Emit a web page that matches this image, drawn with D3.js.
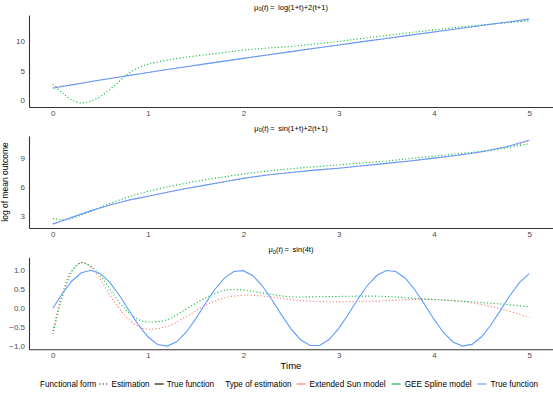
<!DOCTYPE html>
<html>
<head>
<meta charset="utf-8">
<script src="https://cdn.jsdelivr.net/npm/d3@7"></script>
<style>
  body { margin: 0; background: #fff; }
  svg { font-family: "Liberation Sans", Arial, Helvetica, sans-serif; }
</style>
</head>
<body>
<svg id="canvas"></svg>
<script>
//--time grids
const timeEst = [0, 0.1, 0.2, 0.3, 0.4, 0.5, 0.6, 0.7, 0.8, 0.9, 1.0, 1.2, 1.4, 1.6, 1.8, 2.0,
                 2.25, 2.5, 2.75, 3.0, 3.25, 3.5, 3.75, 4.0, 4.25, 4.5, 4.75, 5.0];
const timeFine = [0, 0.1, 0.2, 0.3, 0.4, 0.5, 0.6, 0.7, 0.8, 0.9, 1.0, 1.1, 1.2, 1.3, 1.4, 1.5, 1.6,
                  1.7, 1.8, 1.9, 2.0, 2.1, 2.2, 2.3, 2.4, 2.5, 2.6, 2.7, 2.8, 2.9, 3.0, 3.1, 3.2, 3.3,
                  3.4, 3.5, 3.6, 3.7, 3.8, 3.9, 4.0, 4.1, 4.2, 4.3, 4.4, 4.5, 4.6, 4.7, 4.8, 4.9, 5.0];
//--

//--panel 1: log(1+t)+2(t+1)
const p1Sun = [2.2, 2.4, 2.6, 2.85, 3.1, 3.4, 3.66, 3.92, 4.18, 4.43, 4.68, 5.18, 5.67, 6.15, 6.62, 7.09,
               7.67, 8.24, 8.81, 9.38, 9.94, 10.49, 11.05, 11.6, 12.15, 12.68, 13.2, 13.72];
const p1Gee = [2.7, 1.2, 0.0, -0.5, -0.2, 0.6, 1.8, 3.2, 4.6, 5.5, 6.1, 6.8, 7.3, 7.7, 8.1, 8.5,
               8.85, 9.15, 9.55, 10.0, 10.5, 11.0, 11.5, 11.95, 12.4, 12.8, 13.15, 13.5];
const p1True = [2.0, 2.3, 2.58, 2.86, 3.14, 3.41, 3.67, 3.93, 4.19, 4.44, 4.69, 5.19, 5.68, 6.16, 6.63, 7.1,
                7.68, 8.25, 8.82, 9.39, 9.95, 10.5, 11.06, 11.61, 12.16, 12.7, 13.25, 13.79];
//--

//--panel 2: sin(1+t)+2(t+1)
const p2Sun = [2.15, 2.45, 2.78, 3.12, 3.47, 3.78, 4.06, 4.33, 4.58, 4.79, 4.99, 5.39, 5.79, 6.14, 6.5, 6.84,
               7.19, 7.45, 7.7, 7.9, 8.15, 8.4, 8.65, 8.94, 9.24, 9.58, 10.05, 10.72];
const p2Gee = [2.7, 2.55, 2.7, 3.05, 3.45, 3.85, 4.25, 4.6, 4.95, 5.25, 5.5, 5.95, 6.35, 6.7, 7.0, 7.3,
               7.6, 7.85, 8.05, 8.25, 8.45, 8.65, 8.9, 9.15, 9.4, 9.65, 10.0, 10.45];
const p2True = [2.1, 2.45, 2.8, 3.15, 3.5, 3.8, 4.08, 4.35, 4.6, 4.8, 5.0, 5.4, 5.8, 6.15, 6.5, 6.85,
                7.2, 7.45, 7.7, 7.9, 8.15, 8.4, 8.65, 8.95, 9.25, 9.6, 10.1, 10.8];
//--

//--panel 3: sin(4t)
const p3Sun = [-0.6, 0.4, 1.0, 1.2, 1.08, 0.75, 0.35, -0.02, -0.3, -0.48, -0.55, -0.48, -0.22, 0.07, 0.27, 0.34,
               0.31, 0.23, 0.18, 0.17, 0.18, 0.2, 0.23, 0.23, 0.19, 0.1, -0.05, -0.24];
const p3Gee = [-0.68, 0.3, 0.95, 1.2, 1.1, 0.85, 0.5, 0.15, -0.12, -0.3, -0.36, -0.3, -0.02, 0.27, 0.47, 0.48,
               0.38, 0.3, 0.3, 0.31, 0.32, 0.31, 0.27, 0.23, 0.19, 0.15, 0.1, 0.04];
const p3True = [0, 0.389, 0.717, 0.932, 1.0, 0.909, 0.675, 0.335, -0.058, -0.443, -0.757, -0.952, -0.996,
                -0.883, -0.631, -0.279, 0.117, 0.494, 0.794, 0.968, 0.989, 0.855, 0.585, 0.223, -0.175,
                -0.544, -0.828, -0.981, -0.98, -0.823, -0.537, -0.166, 0.231, 0.592, 0.86, 0.991, 0.966,
                0.79, 0.487, 0.108, -0.288, -0.638, -0.886, -0.996, -0.951, -0.751, -0.434, -0.049,
                0.343, 0.681, 0.913];
//--

//--labels
const panelTitles = ["log(1+t)+2(t+1)", "sin(1+t)+2(t+1)", "sin(4t)"];
const panelTicks = [[0, 5, 10], [3, 6, 9], [-1, -0.5, 0, 0.5, 1]];
const panelDomains = [[-1.2, 14.5], [1.7, 11.24], [-1.08, 1.34]];
const xTicks = [0, 1, 2, 3, 4, 5];
const seriesNames = ["Extended Sun model", "GEE Spline model", "True function"];
const seriesColors = ["#F8766D", "#00BA38", "#619CFF"];
//--

//--canvas
let width = 553;
let height = 394;
let left = 29;
let right = 553;
let panelTops = [15, 136, 257.3];
let panelH = 92;

let canvas = d3.select("#canvas")
canvas.attr("width", width).attr("height", height)
//--

let x = d3.scaleLinear().domain([-0.25, 5.25]).range([left, right]);

let panels = [
  { sun: p1Sun, gee: p1Gee, truth: p1True, trueTime: timeEst },
  { sun: p2Sun, gee: p2Gee, truth: p2True, trueTime: timeEst },
  { sun: p3Sun, gee: p3Gee, truth: p3True, trueTime: timeFine }
];

panels.forEach((p, i) => {
  let top = panelTops[i];
  let y = d3.scaleLinear().domain(panelDomains[i]).range([top + panelH, top]);
  let g = canvas.append('g');

  // estimation lines (dotted) then true function (solid)
  let est = d3.line().x((d, k) => x(timeEst[k])).y(d => y(d)).curve(d3.curveCatmullRom);
  let tru = d3.line().x((d, k) => x(p.trueTime[k])).y(d => y(d));

  g.append('path').attr('d', est(p.sun)).attr('fill', 'none')
    .attr('stroke', seriesColors[0]).attr('stroke-width', 1.1).attr('stroke-dasharray', '1.1,2.2');
  g.append('path').attr('d', est(p.gee)).attr('fill', 'none')
    .attr('stroke', seriesColors[1]).attr('stroke-width', 1.1).attr('stroke-dasharray', '1.1,2.2');
  g.append('path').attr('d', tru(p.truth)).attr('fill', 'none')
    .attr('stroke', seriesColors[2]).attr('stroke-width', 1.1);

  // axes
  let fmt = i == 2 ? (d => d3.format(".1f")(d).replace('-', '\u2212')) : d3.format("d");
  let yAxis = g.append('g').attr('transform', `translate(${left},0)`)
    .call(d3.axisLeft(y).tickValues(panelTicks[i]).tickSize(0).tickPadding(4).tickFormat(fmt));
  let xAxis = g.append('g').attr('transform', `translate(0,${top + panelH})`)
    .call(d3.axisBottom(x).tickValues(xTicks).tickSize(0).tickPadding(3.5).tickFormat(d3.format("d")));
  [xAxis, yAxis].forEach(a => {
    a.select('.domain').attr('stroke', '#333').attr('stroke-width', 1.1);
    a.selectAll('text').attr('fill', '#4D4D4D').attr('font-size', 8)
      .attr('font-family', '"Liberation Sans", Arial, sans-serif');
  });

  // title
  let t = g.append('text').attr('x', (left + right) / 2).attr('y', top - 5.5)
    .attr('text-anchor', 'middle').attr('font-size', 7.5).attr('fill', '#000');
  t.append('tspan').text('\u03BC');
  t.append('tspan').attr('dy', 1.8).attr('font-size', 5.5).text('0');
  t.append('tspan').attr('dy', -1.8).text('(');
  t.append('tspan').attr('font-style', 'italic').text('t');
  t.append('tspan').text(')\u2009=\u2009 ' + panelTitles[i]);
});

//--axis titles
canvas.append('text').attr('x', (left + right) / 2).attr('y', 369)
  .attr('text-anchor', 'middle').attr('font-size', 9.5).attr('fill', '#000').text('Time');
canvas.append('text').attr('transform', 'translate(8,182) rotate(-90)')
  .attr('text-anchor', 'middle').attr('font-size', 8.5).attr('fill', '#000').text('log of mean outcome');
//--

//--legend
let legendY = 384;
let lg = canvas.append('g');
let cursor = 40;
let addText = (s) => {
  let el = lg.append('text').attr('x', cursor).attr('y', legendY + 3)
    .attr('font-size', 8.2).attr('fill', '#000').text(s);
  cursor += el.node().getComputedTextLength();
};
let addKey = (color, dashed) => {
  let l = lg.append('line').attr('x1', cursor).attr('x2', cursor + 9)
    .attr('y1', legendY).attr('y2', legendY)
    .attr('stroke', color).attr('stroke-width', 1.1);
  if (dashed) l.attr('stroke-dasharray', '1.1,2.2');
  cursor += 9;
};

addText('Functional form'); cursor += 3;
addKey('#000', true); cursor += 3;
addText('Estimation'); cursor += 5;
addKey('#000', false); cursor += 3;
addText('True function'); cursor += 11;
addText('Type of estimation'); cursor += 5;
seriesNames.forEach((n, k) => {
  addKey(seriesColors[k], false); cursor += 4;
  addText(n); cursor += 6;
});
//--
</script>
</body>
</html>
